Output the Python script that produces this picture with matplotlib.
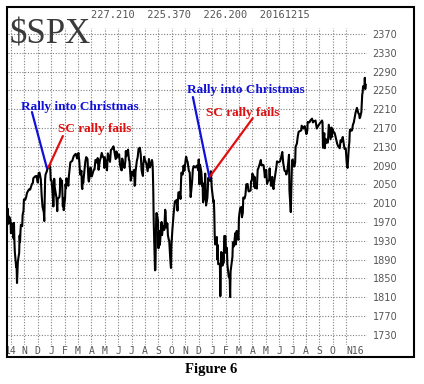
import calendar
import matplotlib
matplotlib.use("Agg")
import matplotlib.pyplot as plt
from matplotlib.patches import Rectangle

# SPX closes (spike days use the bar extreme)
dates_2014 = ["2014-09-22", "2014-09-23", "2014-09-24", "2014-09-25", "2014-09-26", "2014-09-29", "2014-09-30",
              "2014-10-01", "2014-10-03", "2014-10-06", "2014-10-07", "2014-10-08", "2014-10-09", "2014-10-10",
              "2014-10-13", "2014-10-14", "2014-10-15", "2014-10-16", "2014-10-17", "2014-10-20", "2014-10-21",
              "2014-10-22", "2014-10-23", "2014-10-24", "2014-10-27", "2014-10-28", "2014-10-30", "2014-10-31",
              "2014-11-03", "2014-11-05", "2014-11-07", "2014-11-11", "2014-11-13", "2014-11-14", "2014-11-18",
              "2014-11-20", "2014-11-21", "2014-11-25", "2014-11-28", "2014-12-01", "2014-12-03", "2014-12-05",
              "2014-12-08", "2014-12-10", "2014-12-12", "2014-12-15", "2014-12-16", "2014-12-17", "2014-12-18",
              "2014-12-19", "2014-12-22", "2014-12-23", "2014-12-26", "2014-12-29", "2014-12-30", "2014-12-31"]
spx_2014 = [1994, 1982, 1998, 1966, 1982, 1978, 1972,
            1946, 1967, 1964, 1935, 1968, 1928, 1906,
            1874, 1878, 1840, 1862, 1886, 1904, 1941,
            1927, 1950, 1964, 1961, 1985, 1994, 2018,
            2017, 2023, 2032, 2039, 2040, 2039, 2051,
            2053, 2063, 2067, 2068, 2054, 2074, 2075,
            2061, 2026, 2002, 1990, 1972, 2012, 2061,
            2071, 2078, 2082, 2089, 2090, 2081, 2059]

dates_2015 = ["2015-01-02", "2015-01-05", "2015-01-06", "2015-01-07", "2015-01-08", "2015-01-09", "2015-01-12",
              "2015-01-13", "2015-01-14", "2015-01-15", "2015-01-16", "2015-01-20", "2015-01-21", "2015-01-22",
              "2015-01-23", "2015-01-26", "2015-01-27", "2015-01-28", "2015-01-29", "2015-01-30", "2015-02-02",
              "2015-02-03", "2015-02-04", "2015-02-05", "2015-02-06", "2015-02-09", "2015-02-10", "2015-02-12",
              "2015-02-13", "2015-02-17", "2015-02-20", "2015-02-24", "2015-02-25", "2015-02-27", "2015-03-02",
              "2015-03-04", "2015-03-06", "2015-03-09", "2015-03-10", "2015-03-11", "2015-03-12", "2015-03-13",
              "2015-03-16", "2015-03-18", "2015-03-20", "2015-03-23", "2015-03-25", "2015-03-26", "2015-03-27",
              "2015-03-30", "2015-03-31", "2015-04-02", "2015-04-06", "2015-04-08", "2015-04-10", "2015-04-14",
              "2015-04-15", "2015-04-17", "2015-04-20", "2015-04-22", "2015-04-24", "2015-04-27", "2015-04-29",
              "2015-04-30", "2015-05-01", "2015-05-05", "2015-05-06", "2015-05-08", "2015-05-11", "2015-05-13",
              "2015-05-15", "2015-05-19", "2015-05-21", "2015-05-22", "2015-05-26", "2015-05-28", "2015-05-29",
              "2015-06-01", "2015-06-03", "2015-06-05", "2015-06-08", "2015-06-09", "2015-06-10", "2015-06-12",
              "2015-06-15", "2015-06-17", "2015-06-18", "2015-06-19", "2015-06-22", "2015-06-23", "2015-06-25",
              "2015-06-26", "2015-06-29", "2015-06-30", "2015-07-02", "2015-07-06", "2015-07-07", "2015-07-08",
              "2015-07-09", "2015-07-10", "2015-07-13", "2015-07-15", "2015-07-17", "2015-07-20", "2015-07-22",
              "2015-07-24", "2015-07-27", "2015-07-28", "2015-07-30", "2015-07-31", "2015-08-04", "2015-08-06",
              "2015-08-07", "2015-08-10", "2015-08-12", "2015-08-14", "2015-08-17", "2015-08-18", "2015-08-19",
              "2015-08-20", "2015-08-21", "2015-08-24", "2015-08-25", "2015-08-26", "2015-08-27", "2015-08-28",
              "2015-08-31", "2015-09-01", "2015-09-02", "2015-09-03", "2015-09-04", "2015-09-08", "2015-09-09",
              "2015-09-11", "2015-09-14", "2015-09-16", "2015-09-17", "2015-09-18", "2015-09-21", "2015-09-22",
              "2015-09-24", "2015-09-25", "2015-09-28", "2015-09-29", "2015-09-30", "2015-10-02", "2015-10-05",
              "2015-10-08", "2015-10-09", "2015-10-12", "2015-10-14", "2015-10-16", "2015-10-19", "2015-10-21",
              "2015-10-22", "2015-10-23", "2015-10-26", "2015-10-28", "2015-10-30", "2015-11-02", "2015-11-03",
              "2015-11-05", "2015-11-06", "2015-11-09", "2015-11-11", "2015-11-12", "2015-11-13", "2015-11-16",
              "2015-11-18", "2015-11-20", "2015-11-23", "2015-11-25", "2015-11-27", "2015-11-30", "2015-12-01",
              "2015-12-02", "2015-12-03", "2015-12-04", "2015-12-07", "2015-12-08", "2015-12-09", "2015-12-10",
              "2015-12-11", "2015-12-14", "2015-12-15", "2015-12-16", "2015-12-17", "2015-12-18", "2015-12-21",
              "2015-12-22", "2015-12-23", "2015-12-24", "2015-12-28", "2015-12-29", "2015-12-30", "2015-12-31"]
spx_2015 = [2058, 2021, 2003, 2026, 2062, 2045, 2028,
            2023, 2012, 1993, 2019, 2023, 2032, 2063,
            2051, 2058, 2030, 2003, 2021, 1995, 2021,
            2050, 2042, 2063, 2055, 2047, 2068, 2088,
            2097, 2100, 2110, 2115, 2114, 2105, 2117,
            2099, 2071, 2079, 2044, 2040, 2066, 2053,
            2081, 2099, 2108, 2104, 2062, 2056, 2061,
            2086, 2068, 2067, 2081, 2082, 2102, 2096,
            2106, 2081, 2101, 2107, 2117, 2108, 2106,
            2085, 2108, 2089, 2080, 2116, 2105, 2098,
            2123, 2127, 2131, 2126, 2104, 2120, 2107,
            2111, 2114, 2092, 2080, 2080, 2105, 2094,
            2085, 2100, 2121, 2110, 2122, 2124, 2102,
            2101, 2058, 2063, 2077, 2068, 2081, 2047,
            2052, 2077, 2100, 2108, 2126, 2128, 2114,
            2080, 2068, 2093, 2109, 2104, 2094, 2084,
            2078, 2104, 2086, 2092, 2102, 2097, 2079,
            2036, 1971, 1867, 1868, 1940, 1988, 1989,
            1972, 1914, 1949, 1951, 1921, 1970, 1942,
            1961, 1953, 1996, 1990, 1958, 1967, 1943,
            1932, 1931, 1882, 1872, 1920, 1951, 1987,
            2014, 2014, 2017, 1994, 2033, 2033, 2019,
            2052, 2075, 2071, 2090, 2079, 2104, 2109,
            2100, 2099, 2079, 2075, 2045, 2023, 2053,
            2083, 2089, 2086, 2088, 2090, 2080, 2103,
            2080, 2050, 2092, 2077, 2064, 2047, 2053,
            2012, 2022, 2044, 2073, 2041, 2005, 2021,
            2038, 2064, 2061, 2057, 2078, 2063, 2044]

dates_2016 = ["2016-01-04", "2016-01-05", "2016-01-06", "2016-01-07", "2016-01-08", "2016-01-11", "2016-01-12",
              "2016-01-13", "2016-01-14", "2016-01-15", "2016-01-19", "2016-01-20", "2016-01-21", "2016-01-22",
              "2016-01-25", "2016-01-26", "2016-01-27", "2016-01-28", "2016-01-29", "2016-02-01", "2016-02-02",
              "2016-02-03", "2016-02-04", "2016-02-05", "2016-02-08", "2016-02-09", "2016-02-10", "2016-02-11",
              "2016-02-12", "2016-02-16", "2016-02-17", "2016-02-18", "2016-02-19", "2016-02-22", "2016-02-23",
              "2016-02-24", "2016-02-25", "2016-02-26", "2016-02-29", "2016-03-01", "2016-03-02", "2016-03-04",
              "2016-03-07", "2016-03-08", "2016-03-10", "2016-03-11", "2016-03-14", "2016-03-16", "2016-03-17",
              "2016-03-18", "2016-03-21", "2016-03-23", "2016-03-24", "2016-03-28", "2016-03-29", "2016-03-31",
              "2016-04-01", "2016-04-04", "2016-04-05", "2016-04-06", "2016-04-07", "2016-04-08", "2016-04-11",
              "2016-04-12", "2016-04-13", "2016-04-14", "2016-04-18", "2016-04-20", "2016-04-21", "2016-04-22",
              "2016-04-26", "2016-04-28", "2016-04-29", "2016-05-02", "2016-05-04", "2016-05-06", "2016-05-09",
              "2016-05-10", "2016-05-11", "2016-05-12", "2016-05-13", "2016-05-16", "2016-05-17", "2016-05-19",
              "2016-05-20", "2016-05-24", "2016-05-26", "2016-05-27", "2016-05-31", "2016-06-03", "2016-06-06",
              "2016-06-08", "2016-06-10", "2016-06-13", "2016-06-16", "2016-06-17", "2016-06-20", "2016-06-23",
              "2016-06-24", "2016-06-27", "2016-06-28", "2016-06-29", "2016-06-30", "2016-07-01", "2016-07-05",
              "2016-07-07", "2016-07-08", "2016-07-11", "2016-07-13", "2016-07-15", "2016-07-19", "2016-07-21",
              "2016-07-22", "2016-07-26", "2016-07-29", "2016-08-02", "2016-08-04", "2016-08-05", "2016-08-09",
              "2016-08-11", "2016-08-15", "2016-08-17", "2016-08-19", "2016-08-23", "2016-08-26", "2016-08-30",
              "2016-09-02", "2016-09-07", "2016-09-08", "2016-09-09", "2016-09-12", "2016-09-13", "2016-09-15",
              "2016-09-16", "2016-09-20", "2016-09-22", "2016-09-26", "2016-09-28", "2016-09-29", "2016-09-30",
              "2016-10-03", "2016-10-05", "2016-10-07", "2016-10-11", "2016-10-13", "2016-10-17", "2016-10-19",
              "2016-10-21", "2016-10-24", "2016-10-26", "2016-10-28", "2016-10-31", "2016-11-01", "2016-11-02",
              "2016-11-03", "2016-11-04", "2016-11-07", "2016-11-08", "2016-11-09", "2016-11-10", "2016-11-11",
              "2016-11-14", "2016-11-16", "2016-11-18", "2016-11-22", "2016-11-25", "2016-11-28", "2016-11-30",
              "2016-12-01", "2016-12-02", "2016-12-05", "2016-12-07", "2016-12-08", "2016-12-09", "2016-12-12",
              "2016-12-13", "2016-12-14", "2016-12-15"]
spx_2016 = [2012, 2016, 1990, 1943, 1922, 1924, 1938,
            1890, 1921, 1880, 1881, 1812, 1869, 1906,
            1877, 1903, 1882, 1893, 1940, 1940, 1904,
            1913, 1915, 1880, 1853, 1852, 1851, 1810,
            1865, 1896, 1927, 1918, 1918, 1946, 1922,
            1929, 1951, 1948, 1932, 1978, 1987, 2000,
            2002, 1980, 1990, 2022, 2020, 2027, 2040,
            2050, 2051, 2036, 2035, 2037, 2056, 2060,
            2073, 2067, 2045, 2066, 2042, 2048, 2041,
            2062, 2082, 2083, 2095, 2102, 2091, 2092,
            2091, 2076, 2065, 2081, 2051, 2057, 2059,
            2084, 2064, 2064, 2047, 2066, 2047, 2040,
            2052, 2077, 2090, 2099, 2097, 2099, 2110,
            2119, 2096, 2079, 2077, 2071, 2083, 2113,
            2037, 1991, 2036, 2071, 2099, 2103, 2088,
            2097, 2130, 2137, 2152, 2162, 2164, 2165,
            2175, 2169, 2174, 2157, 2164, 2183, 2182,
            2186, 2190, 2182, 2184, 2186, 2169, 2176,
            2180, 2186, 2182, 2128, 2159, 2127, 2147,
            2139, 2139, 2177, 2146, 2171, 2151, 2168,
            2161, 2160, 2153, 2137, 2132, 2127, 2144,
            2141, 2151, 2139, 2126, 2126, 2111, 2097,
            2088, 2085, 2131, 2139, 2163, 2167, 2164,
            2165, 2177, 2182, 2203, 2213, 2202, 2199,
            2191, 2192, 2204, 2241, 2246, 2259, 2256,
            2277, 2253, 2262]

month_labels = ["14", "N", "D", "J", "F", "M", "A", "M", "J", "J", "A", "S", "O",
                "N", "D", "J", "F", "M", "A", "M", "J", "J", "A", "S", "O", "N16"]
price_ticks = list(range(1730, 2371, 40))
header_values = "227.210  225.370  226.200  20161215"

# (text, text date, text level, line start date, start level, line end date, end level, colour)
notes = [
    ("Rally into Christmas", "2014-10-24", 2215, "2014-11-18", 2204, "2014-12-22", 2085, "#1010d8"),
    ("SC rally fails", "2015-01-16", 2168, "2015-01-28", 2153, "2014-12-26", 2087, "#e01010"),
    ("Rally into Christmas", "2015-11-04", 2251, "2015-11-18", 2236, "2015-12-26", 2064, "#1010d8"),
    ("SC rally fails", "2015-12-19", 2202, "2016-04-02", 2191, "2015-12-28", 2068, "#e01010"),
]


def mnum(d):
    # months since 1 Oct 2014
    y, m, day = (int(s) for s in d.split("-"))
    return (y - 2014) * 12 + (m - 10) + (day - 1) / calendar.monthrange(y, m)[1]


dates = dates_2014 + dates_2015 + dates_2016
spx = spx_2014 + spx_2015 + spx_2016
x = [mnum(d) for d in dates]

W, H = 424, 384
fig = plt.figure(figsize=(W / 100, H / 100), dpi=100)
ax = fig.add_axes([8 / W, 1 - 345 / H, 359 / W, 317 / H])

ax.plot(x, spx, color="black", lw=1.5)

ax.set_xlim(-0.22, 26.55)
ax.set_ylim(1708, 2383)
ax.set_xticks(range(len(month_labels)))
ax.set_xticklabels(month_labels)
ax.set_yticks(price_ticks)
ax.yaxis.tick_right()
ax.tick_params(axis="both", length=0, colors="#555555", labelsize=7)
ax.tick_params(axis="y", pad=4)
ax.tick_params(axis="x", pad=1)
for lab in ax.get_xticklabels():
    lab.set_family("DejaVu Sans Mono")
ax.get_xticklabels()[-1].set_horizontalalignment("left")
ax.get_xticklabels()[-1].set_x(24.8)
ax.grid(True, color="#808080", linestyle=(0, (1, 1.5)), lw=0.8)
for s in ax.spines.values():
    s.set_visible(False)

for text, td, tv, sd, sv, ed, ev, col in notes:
    ax.text(mnum(td), tv, text, color=col, ha="left", va="center",
            family="Liberation Serif", fontweight="bold", fontsize=9.5)
    ax.annotate("", xy=(mnum(ed), ev), xytext=(mnum(sd), sv),
                arrowprops=dict(arrowstyle="-", color=col, lw=1.6, shrinkA=0, shrinkB=0))

fig.text(10 / W, 1 - 43 / H, "$SPX", family="Liberation Serif", fontsize=25,
         color="#3a3a3a", va="baseline", ha="left")
fig.text(91 / W, 1 - 15 / H, header_values, family="DejaVu Sans Mono", fontsize=7.5,
         color="#555555", va="center", ha="left")
fig.text(211 / W, 1 - 370 / H, "Figure 6", family="Liberation Serif", fontweight="bold",
         fontsize=10.5, color="black", ha="center", va="center")
fig.add_artist(Rectangle((7 / W, 1 - 357 / H), 407 / W, 350 / H, transform=fig.transFigure,
                         fill=False, lw=1.5, edgecolor="black"))

fig.savefig("out.png", dpi=100)
